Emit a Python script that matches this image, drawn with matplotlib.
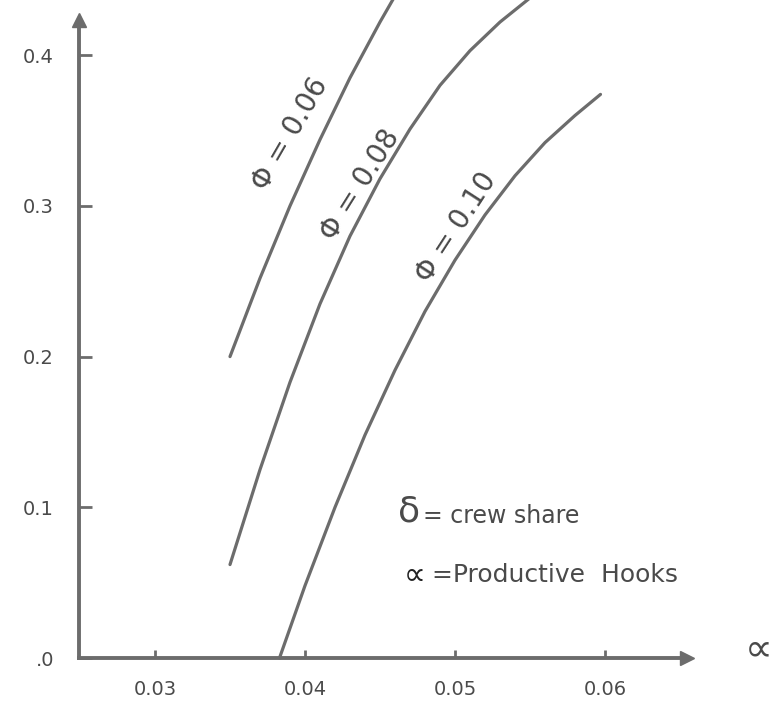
import matplotlib
matplotlib.use("Agg")
import matplotlib.pyplot as plt

# ---- data ----
x_ticks = [0.03, 0.04, 0.05, 0.06]
x_tick_labels = ["0.03", "0.04", "0.05", "0.06"]
y_ticks = [0.0, 0.1, 0.2, 0.3, 0.4]
y_tick_labels = [".0", "0.1", "0.2", "0.3", "0.4"]

phi_006_x = [0.035, 0.037, 0.039, 0.041, 0.043, 0.045, 0.0465]
phi_006_y = [0.200, 0.252, 0.300, 0.344, 0.385, 0.422, 0.448]

phi_008_x = [0.035, 0.037, 0.039, 0.041, 0.043, 0.045, 0.047, 0.049, 0.051, 0.053, 0.055, 0.056]
phi_008_y = [0.062, 0.125, 0.183, 0.235, 0.280, 0.318, 0.351, 0.380, 0.403, 0.422, 0.438, 0.446]

phi_010_x = [0.0383, 0.040, 0.042, 0.044, 0.046, 0.048, 0.050, 0.052, 0.054, 0.056, 0.058, 0.0597]
phi_010_y = [0.000, 0.048, 0.100, 0.148, 0.191, 0.230, 0.264, 0.294, 0.320, 0.342, 0.360, 0.374]

curve_labels = ["Φ = 0.06", "Φ = 0.08", "Φ = 0.10"]
legend_symbols = ["δ", "∝"]
legend_texts = ["= crew share", "=Productive  Hooks"]
x_axis_name = "∝"

# ---- styling ----
GRAY = "#6c6c6c"
TXT = "#4a4a4a"

fig = plt.figure(figsize=(7.74, 7.12), dpi=100)
ax = fig.add_axes([79 / 774, (712 - 658) / 712, (687 - 79) / 774, (658 - 20) / 712])
ax.set_xlim(0.03 - 76 / 15000, 0.03 + 532 / 15000)
ax.set_ylim(0, (658 - 20) / 1507)
ax.patch.set_alpha(0)

for s in ["top", "right"]:
    ax.spines[s].set_visible(False)
for s in ["left", "bottom"]:
    ax.spines[s].set_color(GRAY)
    ax.spines[s].set_linewidth(2.8)

# arrow heads
ax.plot(1, 0, ">", color=GRAY, markersize=10, transform=ax.transAxes, clip_on=False)
ax.plot(0, 1, "^", color=GRAY, markersize=10, transform=ax.transAxes, clip_on=False)

ax.set_xticks(x_ticks)
ax.set_xticklabels(x_tick_labels)
ax.set_yticks(y_ticks)
ax.set_yticklabels(y_tick_labels)
ax.tick_params(axis="x", direction="in", length=6, width=2, color=GRAY,
               pad=16, labelsize=14, labelcolor=TXT)
ax.tick_params(axis="y", direction="in", length=9, width=2, color=GRAY,
               pad=18, labelsize=14, labelcolor=TXT)

lw = 2.3
for xs, ys in [(phi_006_x, phi_006_y), (phi_008_x, phi_008_y), (phi_010_x, phi_010_y)]:
    ax.plot(xs, ys, color=GRAY, lw=lw, clip_on=False, solid_capstyle="round")

# curve labels (placed along the curves)
ax.text(0.0390, 0.348, curve_labels[0], rotation=60, rotation_mode="anchor",
        ha="center", va="center", fontsize=20, color=TXT)
ax.text(0.0437, 0.314, curve_labels[1], rotation=58, rotation_mode="anchor",
        ha="center", va="center", fontsize=20, color=TXT)
ax.text(0.0501, 0.286, curve_labels[2], rotation=57, rotation_mode="anchor",
        ha="center", va="center", fontsize=20, color=TXT)

# legend texts
ax.text(0.0462, 0.097, legend_symbols[0], fontsize=26, color=TXT, va="center", ha="left")
ax.text(0.0479, 0.094, legend_texts[0], fontsize=17, color=TXT, va="center", ha="left")
ax.text(0.0466, 0.055, legend_symbols[1], fontsize=22, color="#222222", va="center", ha="left")
ax.text(0.0485, 0.055, legend_texts[1], fontsize=18, color=TXT, va="center", ha="left")

# x axis name
ax.text(0.0693, 0.006, x_axis_name, fontsize=28, color=TXT, va="center", ha="left",
        clip_on=False)

fig.savefig("out.png", dpi=100, facecolor="white")
